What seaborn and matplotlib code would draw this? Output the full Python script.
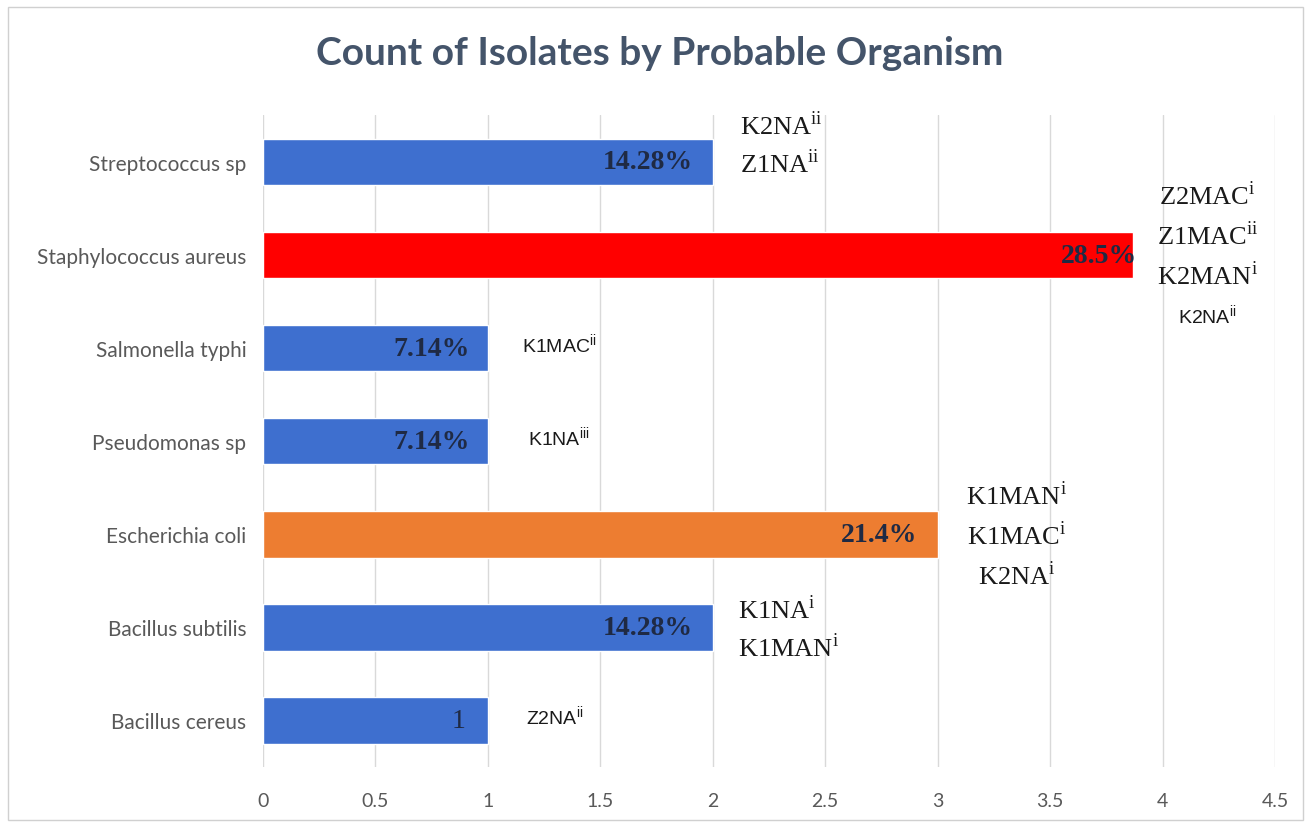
import matplotlib
matplotlib.use("Agg")
import matplotlib.pyplot as plt
import pandas as pd
import seaborn as sns
from matplotlib.patches import Rectangle

# Data (top to bottom)
organisms = ["Streptococcus sp", "Staphylococcus aureus", "Salmonella typhi",
             "Pseudomonas sp", "Escherichia coli", "Bacillus subtilis", "Bacillus cereus"]
counts = [2, 3.87, 1, 1, 3, 2, 1]
bar_labels = ["14.28%", "28.5%", "7.14%", "7.14%", "21.4%", "14.28%", "1"]
bar_colors = ["#3E6FCF", "#FF0000", "#3E6FCF", "#3E6FCF", "#ED7D31", "#3E6FCF", "#3E6FCF"]
isolate_notes = [
    [("K2NA", "ii", "serif"), ("Z1NA", "ii", "serif")],
    [("Z2MAC", "i", "serif"), ("Z1MAC", "ii", "serif"), ("K2MAN", "i", "serif"), ("K2NA", "ii", "sans")],
    [("K1MAC", "ii", "sans")],
    [("K1NA", "iii", "sans")],
    [("K1MAN", "i", "serif"), ("K1MAC", "i", "serif"), ("K2NA", "i", "serif")],
    [("K1NA", "i", "serif"), ("K1MAN", "i", "serif")],
    [("Z2NA", "ii", "sans")],
]

df = pd.DataFrame({"organism": organisms, "count": counts})

sns.set_theme(style="white")
plt.rcParams["font.family"] = ["Lato", "DejaVu Sans"]
plt.rcParams["mathtext.fontset"] = "custom"
plt.rcParams["mathtext.rm"] = "Liberation Serif"
plt.rcParams["mathtext.sf"] = "Liberation Sans"

fig = plt.figure(figsize=(13.11, 8.29), dpi=100)
ax = fig.add_axes([0.2006, 0.0736, 0.772, 0.786])

sns.barplot(data=df, y="organism", x="count", hue="organism", order=organisms,
            palette=dict(zip(organisms, bar_colors)), width=0.5, legend=False,
            saturation=1, ax=ax)

ax.set_xlim(0, 4.5)
ax.set_xticks([0, 0.5, 1, 1.5, 2, 2.5, 3, 3.5, 4, 4.5])
ax.set_xticklabels(["0", "0.5", "1", "1.5", "2", "2.5", "3", "3.5", "4", "4.5"])
ax.grid(axis="x", color="#D9D9D9", linewidth=1)
ax.set_axisbelow(True)
for s in ax.spines.values():
    s.set_visible(False)
ax.set_xlabel("")
ax.set_ylabel("")
ax.tick_params(axis="both", length=0, colors="#595959", labelsize=14)
ax.tick_params(axis="y", pad=12, labelsize=15)
ax.tick_params(axis="x", pad=18)

# percentage labels at the inner end of each bar
label_gap = [0.09, -0.015, 0.08, 0.08, 0.09, 0.09, 0.1]
for i, (v, lab) in enumerate(zip(counts, bar_labels)):
    ax.text(v - label_gap[i], i, lab, ha="right", va="center",
            fontsize=20, fontweight="bold" if lab != "1" else "normal",
            family="Liberation Serif", color="#1F2A44")

# isolate codes beside bars
note_pos = {0: (2.12, "left"), 1: (4.2, "center"), 2: (1.15, "left"), 3: (1.18, "left"),
            4: (3.35, "center"), 5: (2.11, "left"), 6: (1.17, "left")}
for i, notes in enumerate(isolate_notes):
    x, ha = note_pos[i]
    n = len(notes)
    step = 0.43 if n > 2 else 0.41
    start = i - step * (n - 1) / 2
    if n == 1:
        start = i - 0.05
    if i == 0:
        start = i - 0.4
    if i == 5:
        start = i - 0.2
    for k, (code, sup, fam) in enumerate(notes):
        y = start + k * step
        if fam == "serif":
            s = r"$\mathrm{" + code + r"}^{\mathrm{" + sup + "}}$"
            fs = 19
        else:
            s = r"$\mathsf{" + code + r"}^{\mathsf{" + sup + "}}$"
            fs = 14
        ax.text(x, y, s, ha=ha, va="center", fontsize=fs, color="#1a1a1a")

fig.text(0.503, 0.935, "Count of Isolates by Probable Organism", ha="center", va="center",
         fontsize=28, fontweight="bold", color="#44546A")

fig.patches.append(Rectangle((0.006, 0.01), 0.988, 0.98, transform=fig.transFigure,
                             fill=False, edgecolor="#D0D0D0", linewidth=1))

fig.savefig("out.png", dpi=100)
